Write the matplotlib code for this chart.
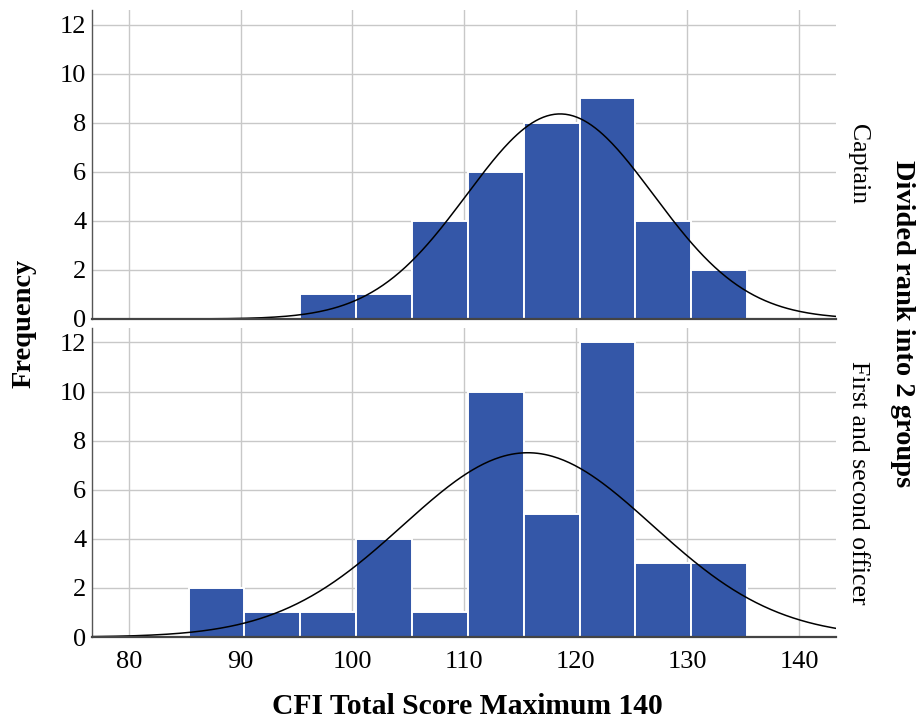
import numpy as np
import matplotlib
matplotlib.use("Agg")
import matplotlib.pyplot as plt

bin_edges = [85.35, 90.35, 95.35, 100.35, 105.35, 110.35, 115.35, 120.35, 125.35, 130.35, 135.35]
captain_counts = [0, 0, 1, 1, 4, 6, 8, 9, 4, 2]
officer_counts = [2, 1, 1, 4, 1, 10, 5, 12, 3, 3]
captain_mean, captain_sd, captain_n = 118.6, 8.35, 35
officer_mean, officer_sd, officer_n = 115.7, 11.16, 42
panel_labels = ["Captain", "First and second officer"]
xticks = [80, 90, 100, 110, 120, 130, 140]
yticks = [0, 2, 4, 6, 8, 10, 12]

plt.rcParams['font.family'] = ['Liberation Serif', 'DejaVu Serif']

fig = plt.figure(figsize=(9.19, 7.22), dpi=100)
ax1 = fig.add_axes([0.1001, 0.5582, 0.8096, 0.4280])
ax2 = fig.add_axes([0.1001, 0.1177, 0.8096, 0.4284])

bar_color = '#3457a8'
xs = np.linspace(76.7, 143.3, 400)
for ax, counts, mu, sd, n, lab in [
    (ax1, captain_counts, captain_mean, captain_sd, captain_n, panel_labels[0]),
    (ax2, officer_counts, officer_mean, officer_sd, officer_n, panel_labels[1]),
]:
    lefts = bin_edges[:-1]
    ax.bar(lefts, counts, width=5, align='edge', color=bar_color,
           edgecolor='white', linewidth=1.4, zorder=2)
    pdf = n * 5 / (sd * np.sqrt(2 * np.pi)) * np.exp(-0.5 * ((xs - mu) / sd) ** 2)
    ax.plot(xs, pdf, color='black', linewidth=1.1, zorder=3)
    ax.set_xlim(76.7, 143.3)
    ax.set_ylim(0, 12.6)
    ax.set_yticks(yticks)
    ax.set_xticks(xticks)
    ax.grid(True, color='#c8c8c8', linewidth=1.0, zorder=0)
    ax.set_axisbelow(True)
    for s in ['top', 'right']:
        ax.spines[s].set_visible(False)
    ax.spines['left'].set_color('#555555')
    ax.spines['left'].set_linewidth(1.0)
    ax.spines['bottom'].set_color('#444444')
    ax.spines['bottom'].set_linewidth(1.6)
    ax.spines['bottom'].set_zorder(4)
    ax.tick_params(length=0, labelsize=19, pad=4)
    ax.text(1.03, 0.5, lab, transform=ax.transAxes, rotation=-90,
            ha='center', va='center', fontsize=18.5)

ax1.tick_params(labelbottom=False)
ax2.tick_params(axis='x', pad=10)

fig.text(0.026, 0.552, 'Frequency', rotation=90, ha='center', va='center',
         fontsize=20.5, fontweight='bold')
fig.text(0.982, 0.552, 'Divided rank into 2 groups', rotation=-90, ha='center',
         va='center', fontsize=20.5, fontweight='bold')
fig.text(0.5087, 0.0111, 'CFI Total Score Maximum 140', ha='center', va='baseline',
         fontsize=21.3, fontweight='bold')

fig.savefig('out.png', dpi=100)
